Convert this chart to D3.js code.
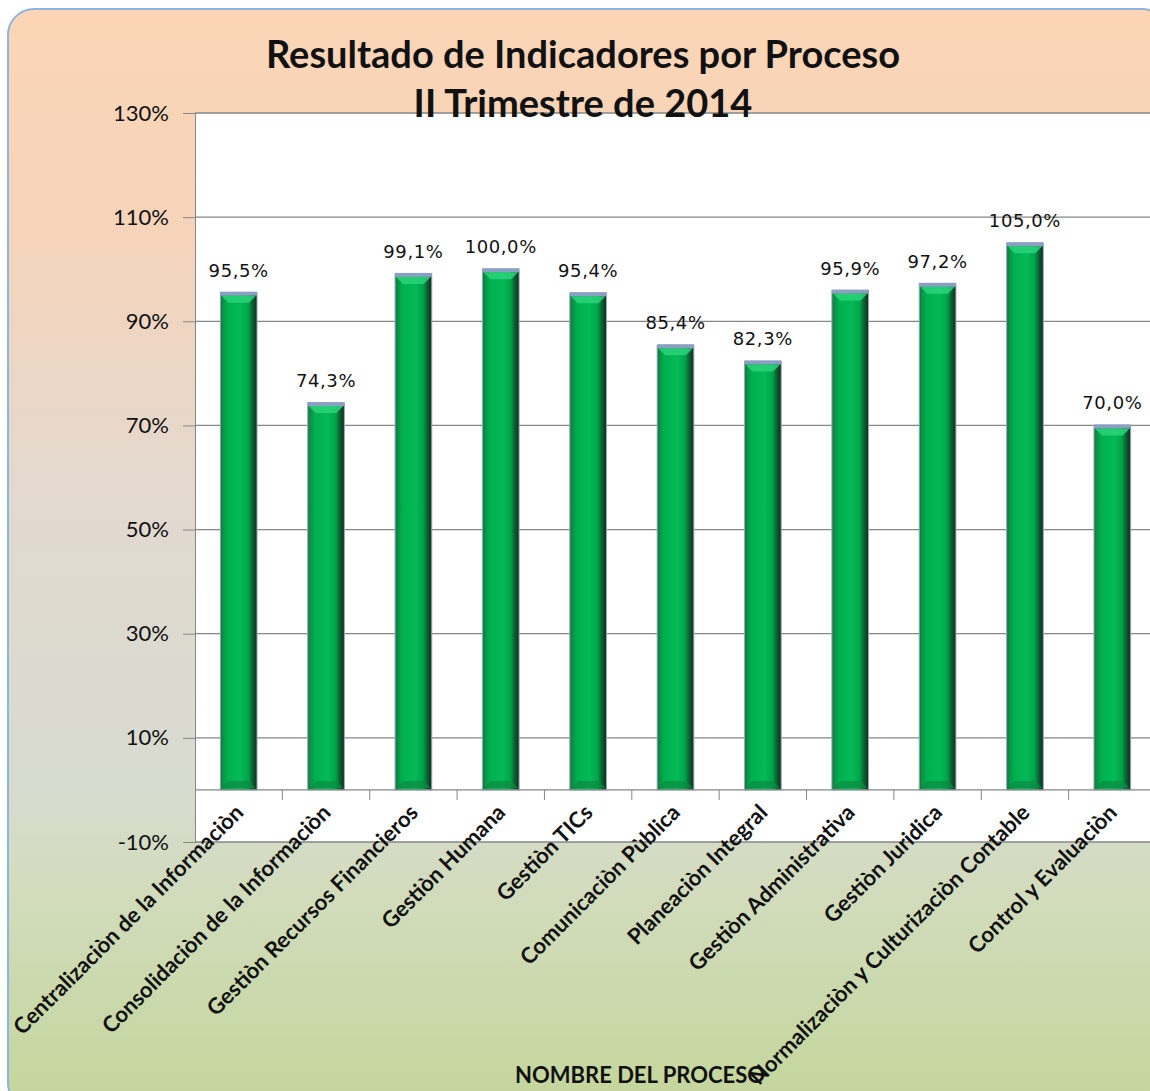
<!DOCTYPE html>
<html>
<head>
<meta charset="utf-8">
<script src="https://cdn.jsdelivr.net/npm/d3@7"></script>
<style>
  body { margin: 0; background: #fff; }
  svg { display: block; }
</style>
</head>
<body>
<svg id="chart" width="1150" height="1091"></svg>
<script>
const procesos = [
    "Centralizaciòn de la Informaciòn",
    "Consolidaciòn de la Informaciòn",
    "Gestiòn Recursos Financieros",
    "Gestiòn Humana",
    "Gestiòn TICs",
    "Comunicaciòn Pùblica",
    "Planeaciòn Integral",
    "Gestiòn Administrativa",
    "Gestiòn Juridica",
    "Normalizaciòn y Culturizaciòn Contable",
    "Control y Evaluaciòn"
];
const resultados = [95.5, 74.3, 99.1, 100.0, 95.4, 85.4, 82.3, 95.9, 97.2, 105.0, 70.0];
const yTicks = [-10, 10, 30, 50, 70, 90, 110, 130];
const titulo = ["Resultado de Indicadores por Proceso", "II Trimestre de 2014"];
const ejeX = "NOMBRE DEL PROCESO";

const svg = d3.select("#chart");
const defs = svg.append("defs");

// card background gradient
const bg = defs.append("linearGradient").attr("id", "bgGrad")
    .attr("x1", 0).attr("y1", 0).attr("x2", 0).attr("y2", 1);
[[0, "#fbd5b6"], [0.2, "#f6d4ba"], [0.45, "#e2d9d0"], [0.7, "#d8dbd0"], [0.8, "#d2dcbd"], [1, "#c3d69a"]]
    .forEach(s => bg.append("stop").attr("offset", s[0]).attr("stop-color", s[1]));

// bar gradient
const bar = defs.append("linearGradient").attr("id", "barGrad")
    .attr("x1", 0).attr("y1", 0).attr("x2", 1).attr("y2", 0);
[[0, "#17703f"], [0.08, "#0a9446"], [0.2, "#00b04e"], [0.55, "#05b957"], [0.76, "#00a449"], [0.87, "#0a6433"], [1, "#0f2c1c"]]
    .forEach(s => bar.append("stop").attr("offset", s[0]).attr("stop-color", s[1]));

svg.append("rect")
    .attr("x", 8).attr("y", 9).attr("width", 1160).attr("height", 1100)
    .attr("rx", 26).attr("ry", 26)
    .attr("fill", "url(#bgGrad)")
    .attr("stroke", "#8db3e2").attr("stroke-width", 2);

const margin = { top: 113, left: 195, right: 1156, bottom: 842 };

const x = d3.scaleBand()
    .domain(procesos)
    .range([margin.left, margin.right])
    .paddingInner(0.58)
    .paddingOuter(0.29);

const y = d3.scaleLinear()
    .domain([-10, 130])
    .range([margin.bottom, margin.top]);

// plot area
svg.append("rect")
    .attr("x", margin.left).attr("y", margin.top)
    .attr("width", 1150 - margin.left).attr("height", margin.bottom - margin.top)
    .attr("fill", "#fff");

// gridlines + y axis
const yAxis = svg.append("g")
    .attr("transform", `translate(${margin.left},0)`)
    .call(d3.axisLeft(y).tickValues(yTicks).tickSize(12).tickPadding(14)
        .tickFormat(d => d + "%"));
yAxis.select(".domain").attr("stroke", "#868686");
yAxis.selectAll(".tick line").attr("stroke", "#868686");
yAxis.selectAll(".tick text")
    .attr("font-family", "Lato, 'Open Sans', sans-serif")
    .attr("font-size", 22)
    .attr("fill", "#111");

svg.append("g").selectAll("line")
    .data(yTicks)
    .join("line")
    .attr("x1", margin.left).attr("x2", 1150)
    .attr("y1", d => y(d)).attr("y2", d => y(d))
    .attr("stroke", "#868686").attr("stroke-width", 1.3);

// bars
const bw = x.bandwidth();
const bars = svg.append("g").selectAll("g")
    .data(procesos)
    .join("g");

bars.append("rect")
    .attr("x", d => x(d))
    .attr("y", (d, i) => y(resultados[i]))
    .attr("width", bw)
    .attr("height", (d, i) => y(0) - y(resultados[i]))
    .attr("fill", "url(#barGrad)")
    .attr("stroke", "#9aa8bf").attr("stroke-width", 1);

// top bevel highlight
bars.append("path")
    .attr("d", (d, i) => {
        const x0 = x(d), y0 = y(resultados[i]);
        return `M${x0 + 1},${y0 + 3} L${x0 + bw - 1},${y0 + 3} L${x0 + bw - 8},${y0 + 10} L${x0 + 8},${y0 + 10} Z`;
    })
    .attr("fill", "#2ad47a").attr("opacity", 0.85);

// top cap
bars.append("rect")
    .attr("x", d => x(d))
    .attr("y", (d, i) => y(resultados[i]) - 1)
    .attr("width", bw)
    .attr("height", 4)
    .attr("fill", "#8a9fc2");

// bottom bevel
bars.append("path")
    .attr("d", d => {
        const x0 = x(d), y0 = y(0);
        return `M${x0 + 1},${y0 - 2} L${x0 + bw - 1},${y0 - 2} L${x0 + bw - 8},${y0 - 9} L${x0 + 8},${y0 - 9} Z`;
    })
    .attr("fill", "#0b8a42").attr("opacity", 0.7);

// data labels
svg.append("g").selectAll("text")
    .data(procesos)
    .join("text")
    .attr("x", d => x(d) + bw / 2)
    .attr("y", (d, i) => y(resultados[i]) - 16)
    .attr("text-anchor", "middle")
    .attr("font-family", "'DejaVu Sans', Verdana, sans-serif")
    .attr("font-size", 18)
    .attr("letter-spacing", 0.6)
    .attr("fill", "#111")
    .text((d, i) => resultados[i].toFixed(1).replace(".", ",") + "%");

// category axis at zero
const xAxis = svg.append("g")
    .attr("transform", `translate(0,${y(0)})`);
xAxis.append("line")
    .attr("x1", margin.left).attr("x2", 1150)
    .attr("stroke", "#868686").attr("stroke-width", 1.3);
xAxis.selectAll(".tk")
    .data(procesos.slice(1))
    .join("line")
    .attr("class", "tk")
    .attr("x1", d => x(d) - x.step() * x.paddingInner() / 2)
    .attr("x2", d => x(d) - x.step() * x.paddingInner() / 2)
    .attr("y1", 0).attr("y2", 10)
    .attr("stroke", "#868686");

// category labels
svg.append("g").selectAll("text")
    .data(procesos)
    .join("text")
    .attr("transform", d => `translate(${x(d) + bw / 2 + 6},${y(0) + 24}) rotate(-45)`)
    .attr("text-anchor", "end")
    .attr("font-family", "Lato, 'Open Sans', sans-serif")
    .attr("font-size", 22)
    .attr("font-weight", "bold")
    .attr("fill", "#111")
    .text(d => d);

// title
svg.append("g").selectAll("text")
    .data(titulo)
    .join("text")
    .attr("x", 583)
    .attr("y", (d, i) => 68 + i * 49)
    .attr("text-anchor", "middle")
    .attr("font-family", "Lato, 'Open Sans', sans-serif")
    .attr("font-weight", "bold")
    .attr("font-size", 38)
    .attr("fill", "#111")
    .text(d => d);

// axis title
svg.append("text")
    .attr("x", 640).attr("y", 1083)
    .attr("text-anchor", "middle")
    .attr("font-family", "Lato, 'Open Sans', sans-serif")
    .attr("font-weight", "bold")
    .attr("font-size", 22)
    .attr("fill", "#111")
    .text(ejeX);
</script>
</body>
</html>
